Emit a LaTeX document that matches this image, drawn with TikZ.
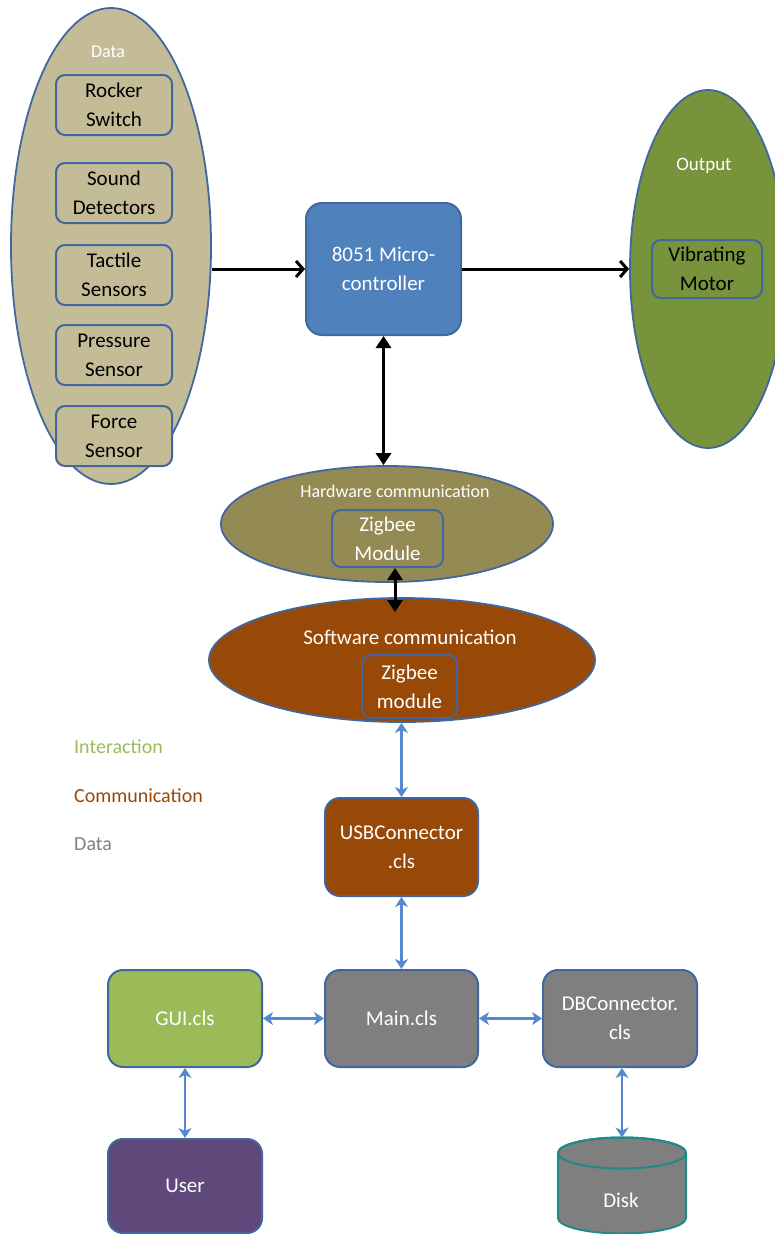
\documentclass[tikz,border=0pt]{standalone}
\usepackage{fontspec}
\setmainfont{Carlito}
\usetikzlibrary{shapes.geometric,arrows.meta}
\definecolor{dataf}{HTML}{C4BC96}
\definecolor{bordc}{HTML}{41679E}
\definecolor{microf}{HTML}{4F81BD}
\definecolor{outf}{HTML}{77933C}
\definecolor{hwf}{HTML}{948A54}
\definecolor{swf}{HTML}{984807}
\definecolor{guif}{HTML}{9BBB59}
\definecolor{grayf}{HTML}{7F7F7F}
\definecolor{userf}{HTML}{5F497A}
\definecolor{diskb}{HTML}{1F8A86}
\definecolor{arrc}{HTML}{5588CC}
\newcommand\fsz{\fontsize{21}{29}\selectfont}
\tikzset{
 innerbox/.style={draw=bordc, line width=2pt, rounded corners=9pt, align=center, inner sep=0pt, font=\fsz},
 bigbox/.style={draw=bordc, line width=2pt, rounded corners=15pt, align=center, inner sep=0pt, text=white, font=\fsz, minimum width=154pt, minimum height=97pt},
 oval/.style={ellipse, draw=bordc, line width=1.8pt, inner sep=0pt},
 blk/.style={line width=3pt, black},
 barb/.style={-{Straight Barb[length=7pt,width=16pt]}},
 tri/.style={{Triangle[length=12pt,width=15pt]}-{Triangle[length=12pt,width=15pt]}},
 blu/.style={line width=2.8pt, arrc, {Stealth[length=10pt,width=13pt,inset=3pt]}-{Stealth[length=10pt,width=13pt,inset=3pt]}},
 legend/.style={anchor=west, font=\fontsize{20}{24}\selectfont, inner sep=0pt},
}
\begin{document}
\begin{tikzpicture}[x=1pt,y=-1pt]
\useasboundingbox (0,0) rectangle (775,1234);
% Data ellipse
\node[oval, fill=dataf, minimum width=200pt, minimum height=476pt] (dataE) at (111,246) {};
\node[text=white, font=\fontsize{18}{20}\selectfont] (dataL) at (108,52) {Data};
\node[innerbox, fill=dataf, minimum width=116pt, minimum height=60pt] (rocker) at (114,105) {Rocker\\Switch};
\node[innerbox, fill=dataf, minimum width=116pt, minimum height=60pt] (sound) at (114,193) {Sound\\Detectors};
\node[innerbox, fill=dataf, minimum width=116pt, minimum height=60pt] (tactile) at (114,275) {Tactile\\Sensors};
\node[innerbox, fill=dataf, minimum width=116pt, minimum height=60pt] (pressure) at (114,355) {Pressure\\Sensor};
\node[innerbox, fill=dataf, minimum width=116pt, minimum height=60pt] (force) at (114,436) {Force\\Sensor};
% Microcontroller
\node[bigbox, fill=microf, minimum width=155pt, minimum height=132pt, rounded corners=16pt] (micro) at (383.5,269) {8051 Micro-\\controller};
% Output ellipse
\node[oval, fill=outf, minimum width=156pt, minimum height=358pt] (outE) at (708,269) {};
\node[text=white, font=\fontsize{19}{21}\selectfont] (outL) at (704,166) {Output};
\node[innerbox, fill=outf, minimum width=110pt, minimum height=58pt] (vib) at (707,269) {Vibrating\\Motor};
% Hardware communication
\node[oval, fill=hwf, minimum width=332pt, minimum height=116pt] (hwE) at (387,524) {};
\node[text=white, font=\fontsize{18}{20}\selectfont] (hwL) at (395,491) {Hardware communication};
\node[innerbox, fill=hwf, text=white, minimum width=111pt, minimum height=57pt] (zb1) at (387.5,538.5) {Zigbee\\Module};
% Software communication
\node[oval, fill=swf, minimum width=386pt, minimum height=124pt] (swE) at (402,660) {};
\node[text=white, font=\fontsize{21}{23}\selectfont] (swL) at (410,637) {Software communication};
\node[innerbox, fill=swf, text=white, minimum width=95pt, minimum height=63pt] (zb2) at (409.5,686.5) {Zigbee\\module};
% Legend
\node[legend, text=guif] (lgI) at (74,747) {Interaction};
\node[legend, text=swf] (lgC) at (74,796) {Communication};
\node[legend, text=grayf] (lgD) at (74,844) {Data};
% Software classes
\node[bigbox, fill=swf, minimum width=153pt, minimum height=98pt] (usb) at (401.5,847) {USBConnector\\.cls};
\node[bigbox, fill=grayf, minimum width=153pt] (main) at (401.5,1018.5) {Main.cls};
\node[bigbox, fill=guif] (gui) at (185,1018.5) {GUI.cls};
\node[bigbox, fill=grayf] (db) at (620,1018.5) {DBConnector.\\cls};
\node[bigbox, fill=userf, minimum height=94pt] (user) at (185,1186) {User};
% Disk cylinder
\filldraw[fill=grayf, draw=diskb, line width=2pt]
  (558,1153) -- (558,1218) arc[start angle=180, end angle=0, x radius=64, y radius=15.5]
  -- (686,1153) arc[start angle=0, end angle=-180, x radius=64, y radius=15.5] -- cycle;
\draw[diskb, line width=2pt] (622,1153) ellipse [x radius=64, y radius=15.5];
\node[text=white, font=\fsz] (disk) at (621,1200) {Disk};
\coordinate (disktop) at (622,1137.5);
\coordinate (swin) at (395,612);
% Connectors
\draw[blk, barb] (dataE.east |- micro.west) -- (micro.west);
\draw[blk, barb] (micro.east) -- (outE.west);
\draw[blk, tri] (micro.south) -- (micro.south |- hwE.north);
\draw[blk, tri] (zb1.south -| swin) -- (swin);
\draw[blu] (swE.south -| usb.north) -- (usb.north);
\draw[blu] (usb.south) -- (main.north);
\draw[blu] (gui.east) -- (main.west);
\draw[blu] (main.east) -- (db.west);
\draw[blu] (gui.south) -- (user.north);
\draw[blu] (db.south -| disktop) -- (disktop);
\end{tikzpicture}
\end{document}
